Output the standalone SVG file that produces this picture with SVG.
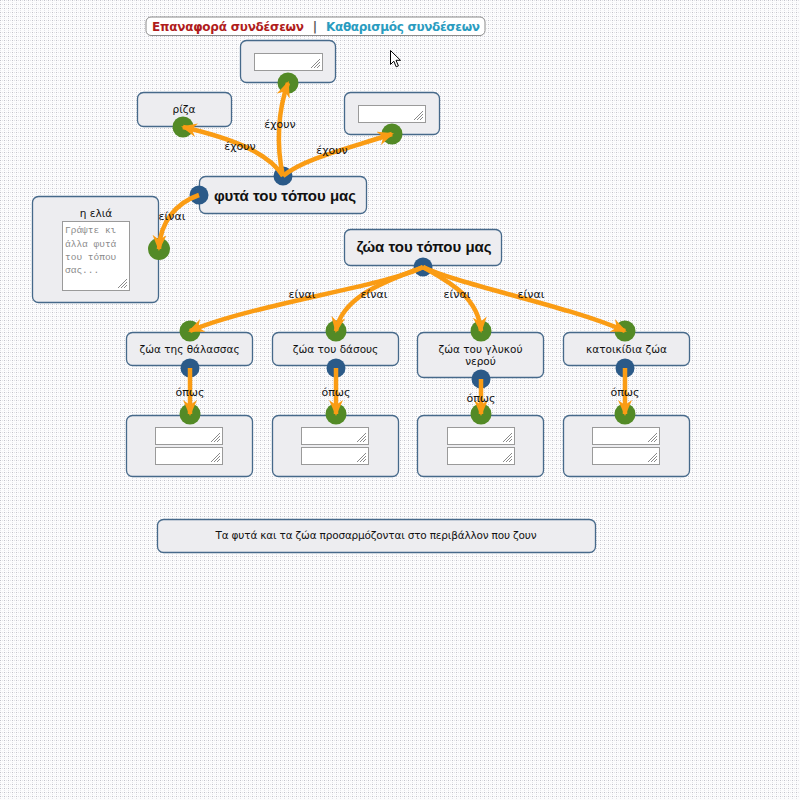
<svg xmlns="http://www.w3.org/2000/svg" xmlns:xlink="http://www.w3.org/1999/xlink" width="800" height="800" viewBox="0 0 800 800">
<defs>
<pattern id="grid" width="4" height="4" patternUnits="userSpaceOnUse">
<rect width="4" height="4" fill="#fcfcfd"/>
<rect x="0" y="0" width="1" height="1" fill="#c2c2ca"/>
<rect x="2" y="0" width="1" height="1" fill="#e4e4e8"/>
<rect x="0" y="2" width="1" height="1" fill="#e4e4e8"/>
</pattern>
<marker id="arr" viewBox="0 0 16 14" markerWidth="16" markerHeight="14" refX="14" refY="7" orient="auto" markerUnits="userSpaceOnUse">
<path d="M0,0 L16,7 L0,14 L5,7 z" fill="#fa9c14"/>
</marker>
<g id="grip">
<path d="M-2,-11 L-11,-2 M-2,-8 L-8,-2 M-2,-5 L-5,-2" stroke="#8a8a8a" stroke-width="1" fill="none"/>
</g>
</defs>
<style>
.node{fill:#ededf0;stroke:#46698a;stroke-width:1.3}
.ta{fill:#fff;stroke:#9a9a9a;stroke-width:1}
.lbl{font-family:"DejaVu Sans",Verdana,sans-serif;font-size:10.5px;fill:#111;text-anchor:middle}
.ttl{font-family:"Liberation Sans",Arial,sans-serif;font-size:15px;font-weight:bold;fill:#111;text-anchor:middle}
.conn{fill:none;stroke:#fa9c14;stroke-width:4.5;marker-end:url(#arr)}
.cl{font-family:"DejaVu Sans",Verdana,sans-serif;font-size:11px;fill:#111;text-anchor:middle}
.ep-t{fill:#538a26}
.ep-s{fill:#2b5a88}
.ph{font-family:"Liberation Mono","DejaVu Sans Mono",monospace;font-size:9.5px;fill:#8a8a8a}
</style>
<rect width="800" height="800" fill="url(#grid)"/>

<g id="toolbar">
<rect x="146" y="17" width="339" height="18.5" rx="5" fill="#fff" stroke="#8a8a8a" stroke-width="1"/>
<text x="152" y="31" font-family="DejaVu Sans,Verdana,sans-serif" font-size="12px" font-weight="bold" fill="#b01c1c" textLength="152">Επαναφορά συνδέσεων</text>
<text x="315" y="31" font-family="DejaVu Sans,Verdana,sans-serif" font-size="12px" font-weight="bold" fill="#555" text-anchor="middle">|</text>
<text x="326" y="31" font-family="DejaVu Sans,Verdana,sans-serif" font-size="12px" font-weight="bold" fill="#2a9cc0" textLength="154">Καθαρισμός συνδέσεων</text>
</g>

<g id="node-top">
<rect class="node" x="240.5" y="40.5" width="95" height="42" rx="6"/>
<rect class="ta" x="254.5" y="53.5" width="68" height="17"/>
<use href="#grip" x="322" y="70"/>
<circle class="ep-t" cx="288" cy="83" r="10.5"/>
</g>

<g id="node-riza">
<rect class="node" x="137.5" y="92.5" width="94" height="34" rx="6"/>
<text class="lbl" x="184" y="113">ρίζα</text>
<circle class="ep-t" cx="183" cy="127" r="10.5"/>
</g>

<g id="node-right">
<rect class="node" x="344.5" y="92.5" width="95" height="42" rx="6"/>
<rect class="ta" x="358.5" y="105.5" width="67" height="17"/>
<use href="#grip" x="425" y="122"/>
<circle class="ep-t" cx="392" cy="134" r="10.5"/>
</g>

<g id="node-fyta">
<rect class="node" x="199.5" y="176.5" width="167" height="37" rx="6"/>
<text class="ttl" x="285" y="201">φυτά του τόπου μας</text>
<circle class="ep-s" cx="283" cy="176" r="9.5"/>
<circle class="ep-s" cx="199" cy="195" r="9.5"/>
</g>

<g id="node-elia">
<rect class="node" x="32.5" y="196.5" width="126" height="106" rx="6"/>
<text class="lbl" x="96" y="217">η ελιά</text>
<rect class="ta" x="62.5" y="221.5" width="67" height="69"/>
<use href="#grip" x="129" y="290"/>
<text class="ph" x="65" y="233">Γράψτε κι</text>
<text class="ph" x="65" y="246.5">άλλα φυτά</text>
<text class="ph" x="65" y="260">του τόπου</text>
<text class="ph" x="65" y="273">σας...</text>
<circle class="ep-t" cx="159" cy="249" r="11"/>
</g>

<g id="node-zoa">
<rect class="node" x="344.5" y="229.5" width="157" height="36" rx="6"/>
<text class="ttl" x="424" y="252">ζώα του τόπου μας</text>
<circle class="ep-s" cx="423" cy="267" r="9.5"/>
</g>

<g id="node-thalassa">
<rect class="node" x="126.5" y="332.5" width="126" height="33" rx="6"/>
<text class="lbl" x="189.5" y="353">ζώα της θάλασσας</text>
<circle class="ep-t" cx="190" cy="331" r="10.5"/>
<circle class="ep-s" cx="190" cy="368" r="9.5"/>
</g>

<g id="node-dasos">
<rect class="node" x="272.5" y="332.5" width="126" height="33" rx="6"/>
<text class="lbl" x="335.5" y="353">ζώα του δάσους</text>
<circle class="ep-t" cx="336" cy="331" r="10.5"/>
<circle class="ep-s" cx="336" cy="368" r="9.5"/>
</g>

<g id="node-nero">
<rect class="node" x="417.5" y="332.5" width="126" height="45" rx="6"/>
<text class="lbl" x="480.5" y="353">ζώα του γλυκού</text>
<text class="lbl" x="480.5" y="365">νερού</text>
<circle class="ep-t" cx="481" cy="331" r="10.5"/>
<circle class="ep-s" cx="481" cy="379" r="9.5"/>
</g>

<g id="node-katoikidia">
<rect class="node" x="563.5" y="332.5" width="126" height="33" rx="6"/>
<text class="lbl" x="626.5" y="353">κατοικίδια ζώα</text>
<circle class="ep-t" cx="625" cy="331" r="10.5"/>
<circle class="ep-s" cx="625" cy="368" r="9.5"/>
</g>

<g id="node-ex1">
<rect class="node" x="126.5" y="415.5" width="126" height="61" rx="6"/>
<rect class="ta" x="155.5" y="427.5" width="67" height="17"/>
<use href="#grip" x="222" y="444"/>
<rect class="ta" x="155.5" y="447.5" width="67" height="17"/>
<use href="#grip" x="222" y="464"/>
<circle class="ep-t" cx="190" cy="414" r="10.5"/>
</g>

<g id="node-ex2">
<rect class="node" x="272.5" y="415.5" width="126" height="61" rx="6"/>
<rect class="ta" x="301.5" y="427.5" width="67" height="17"/>
<use href="#grip" x="368" y="444"/>
<rect class="ta" x="301.5" y="447.5" width="67" height="17"/>
<use href="#grip" x="368" y="464"/>
<circle class="ep-t" cx="336" cy="414" r="10.5"/>
</g>

<g id="node-ex3">
<rect class="node" x="417.5" y="415.5" width="126" height="61" rx="6"/>
<rect class="ta" x="447.5" y="427.5" width="67" height="17"/>
<use href="#grip" x="514" y="444"/>
<rect class="ta" x="447.5" y="447.5" width="67" height="17"/>
<use href="#grip" x="514" y="464"/>
<circle class="ep-t" cx="481" cy="414" r="10.5"/>
</g>

<g id="node-ex4">
<rect class="node" x="563.5" y="415.5" width="126" height="61" rx="6"/>
<rect class="ta" x="592.5" y="427.5" width="67" height="17"/>
<use href="#grip" x="659" y="444"/>
<rect class="ta" x="592.5" y="447.5" width="67" height="17"/>
<use href="#grip" x="659" y="464"/>
<circle class="ep-t" cx="625" cy="414" r="10.5"/>
</g>

<g id="statement">
<rect class="node" x="157.5" y="519.5" width="438" height="33" rx="6"/>
<text class="lbl" x="376" y="539" font-size="10px" textLength="321">Τα φυτά και τα ζώα προσαρμόζονται στο περιβάλλον που ζουν</text>
</g>

<g id="connectors">
<path class="conn" d="M283,176 C276,145 278,110 288,83"/>
<path class="conn" d="M283,176 C268,152 230,138 183,127"/>
<path class="conn" d="M283,176 C305,158 350,148 392,134"/>
<path class="conn" d="M199,195 C176,203 160,222 159,249"/>
<path class="conn" d="M423,267 C390,285 250,305 190,331"/>
<path class="conn" d="M423,267 C390,280 342,295 336,331"/>
<path class="conn" d="M423,267 C445,280 478,295 481,331"/>
<path class="conn" d="M423,267 C460,285 565,305 625,331"/>
<path class="conn" d="M190,368 L190,414"/>
<path class="conn" d="M336,368 L336,414"/>
<path class="conn" d="M481,379 L481,414"/>
<path class="conn" d="M625,368 L625,414"/>
<text class="cl" x="280" y="128">έχουν</text>
<text class="cl" x="240" y="150">έχουν</text>
<text class="cl" x="332" y="154">έχουν</text>
<text class="cl" x="172" y="220">είναι</text>
<text class="cl" x="302" y="298">είναι</text>
<text class="cl" x="374" y="298">είναι</text>
<text class="cl" x="457" y="298">είναι</text>
<text class="cl" x="531" y="298">είναι</text>
<text class="cl" x="190" y="396">όπως</text>
<text class="cl" x="336" y="396">όπως</text>
<text class="cl" x="481" y="402">όπως</text>
<text class="cl" x="625" y="396">όπως</text>
</g>

<g id="cursor">
<polygon points="390.5,50.5 390.5,64.5 393.8,61.2 396.2,66.8 398.4,65.9 396,60.3 400.5,60.3" fill="#fff" stroke="#000" stroke-width="1"/>
</g>
</svg>
